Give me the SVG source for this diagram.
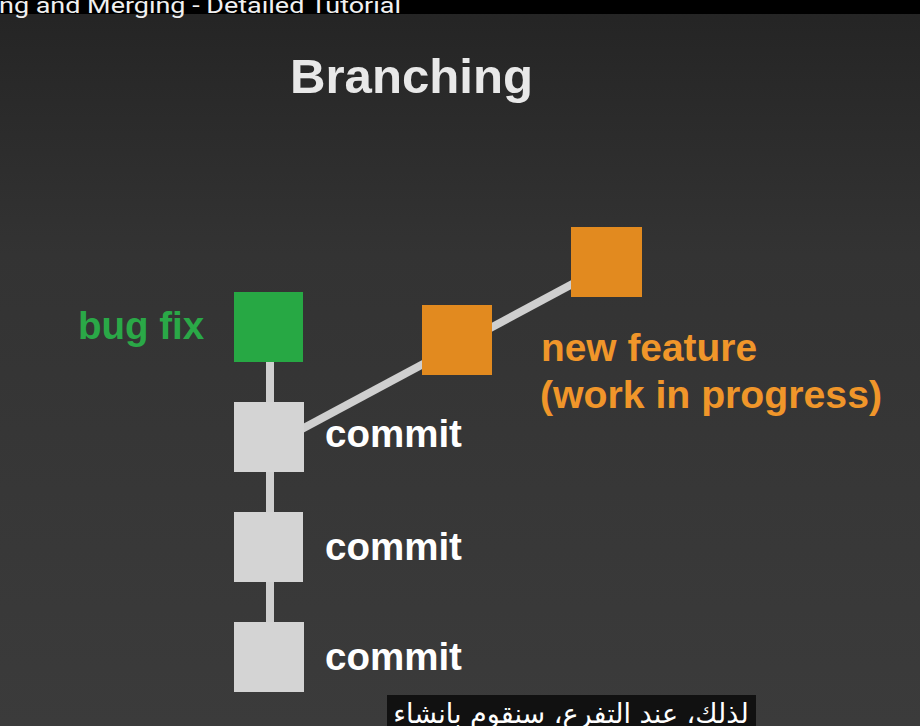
<svg xmlns="http://www.w3.org/2000/svg" width="920" height="726" viewBox="0 0 920 726">
<defs>
<linearGradient id="bg" x1="0" y1="0" x2="0" y2="1">
<stop offset="0" stop-color="#242424"/>
<stop offset="0.35" stop-color="#333333"/>
<stop offset="1" stop-color="#3b3b3b"/>
</linearGradient>
<style>
.lbl{font-family:"Liberation Sans",Arial,sans-serif;font-weight:bold;font-size:38.5px}
.commit{fill:#d4d4d4}
.feat{fill:#e28a1f}
.conn{stroke:#cfcfcf;stroke-width:8;fill:none}
</style>
</defs>
<rect x="0" y="0" width="920" height="726" fill="url(#bg)"/>
<rect x="0" y="0" width="920" height="14" fill="#000"/>
<text x="-1" y="13" font-family="Roboto,'Liberation Sans',sans-serif" font-size="22" fill="#f0f0f0" textLength="402" lengthAdjust="spacingAndGlyphs">ng and Merging - Detailed Tutorial</text>
<text x="290" y="93" font-family="'Liberation Sans',Arial,sans-serif" font-weight="bold" font-size="49" fill="#e8e8e8" textLength="243" lengthAdjust="spacingAndGlyphs">Branching</text>
<g id="connectors">
<line class="conn" x1="270" y1="360" x2="270" y2="625" stroke-width="7"/>
<line class="conn" x1="300" y1="430" x2="578" y2="281"/>
</g>
<g id="bugfix"><rect x="234" y="292" width="69" height="70" fill="#27a844"/><text class="lbl" x="78" y="339" fill="#2aa847">bug fix</text></g>
<g id="commit1"><rect class="commit" x="234" y="402" width="70" height="70"/><text class="lbl" x="325" y="447" fill="#ffffff">commit</text></g>
<g id="commit2"><rect class="commit" x="234" y="512" width="69" height="70"/><text class="lbl" x="325" y="560" fill="#ffffff">commit</text></g>
<g id="commit3"><rect class="commit" x="234" y="622" width="70" height="70"/><text class="lbl" x="325" y="670" fill="#ffffff">commit</text></g>
<g id="feature1"><rect class="feat" x="422" y="305" width="70" height="70"/></g>
<g id="feature2"><rect class="feat" x="571" y="227" width="71" height="70"/></g>
<g id="featurelabel">
<text class="lbl" x="541" y="361" fill="#f0962a" textLength="216" lengthAdjust="spacingAndGlyphs">new feature</text>
<text class="lbl" x="540" y="408" fill="#f0962a" textLength="342" lengthAdjust="spacingAndGlyphs">(work in progress)</text>
</g>
<rect x="387" y="695" width="369" height="31" fill="#111111"/>
<text x="571" y="723" text-anchor="middle" direction="rtl" font-family="'DejaVu Sans',sans-serif" font-size="27" fill="#ffffff">لذلك، عند التفرع، سنقوم بانشاء</text>
</svg>
